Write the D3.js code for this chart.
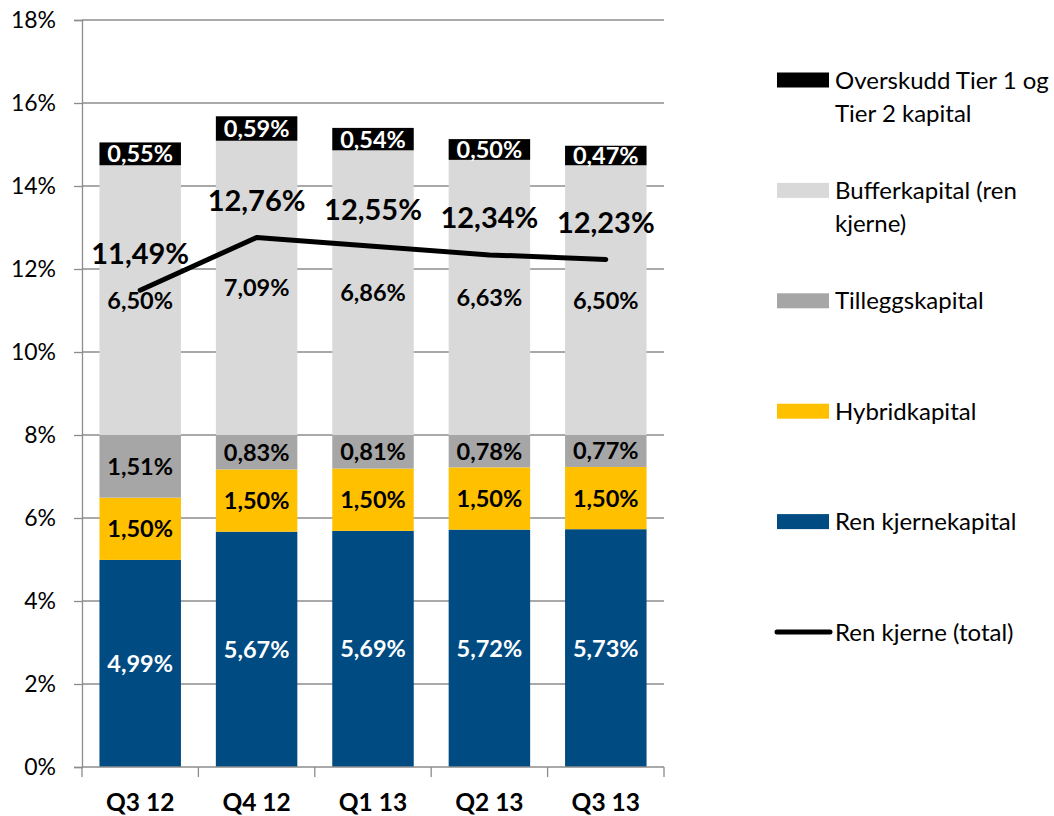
<!DOCTYPE html>
<html>
<head>
<meta charset="utf-8">
<script src="https://cdn.jsdelivr.net/npm/d3@7"></script>
<style>
  body { margin: 0; padding: 0; background: #fff; overflow: hidden; }
  text { font-family: Lato, "Open Sans", sans-serif; }
</style>
</head>
<body>
<script>
// data
const categories = ["Q3 12", "Q4 12", "Q1 13", "Q2 13", "Q3 13"];
const renKjernekapital = [4.99, 5.67, 5.69, 5.72, 5.73];
const hybridkapital = [1.50, 1.50, 1.50, 1.50, 1.50];
const tilleggskapital = [1.51, 0.83, 0.81, 0.78, 0.77];
const bufferkapital = [6.50, 7.09, 6.86, 6.63, 6.50];
const overskudd = [0.55, 0.59, 0.54, 0.50, 0.47];
const renKjerneTotal = [11.49, 12.76, 12.55, 12.34, 12.23];
const yTicks = [0, 2, 4, 6, 8, 10, 12, 14, 16, 18];

const seriesNames = ["Ren kjernekapital", "Hybridkapital", "Tilleggskapital", "Bufferkapital (ren kjerne)", "Overskudd Tier 1 og Tier 2 kapital"];
const seriesValues = [renKjernekapital, hybridkapital, tilleggskapital, bufferkapital, overskudd];
const seriesColors = ["#004b82", "#ffc000", "#a6a6a6", "#d9d9d9", "#000000"];
const labelColors = ["#fff", "#000", "#000", "#000", "#fff"];

const legendItems = [
  {lines: ["Overskudd Tier 1 og", "Tier 2 kapital"], color: "#000000", type: "rect"},
  {lines: ["Bufferkapital (ren", "kjerne)"], color: "#d9d9d9", type: "rect"},
  {lines: ["Tilleggskapital"], color: "#a6a6a6", type: "rect"},
  {lines: ["Hybridkapital"], color: "#ffc000", type: "rect"},
  {lines: ["Ren kjernekapital"], color: "#004b82", type: "rect"},
  {lines: ["Ren kjerne (total)"], color: "#000000", type: "line"}
];

const W = 1054, H = 816;
const plotL = 82, plotR = 664, plotT = 20, plotB = 767;

const nb = d3.formatLocale({decimal: ",", thousands: " ", grouping: [3], currency: ["", ""]});
const pct = v => nb.format(".2f")(v) + "%";

const svg = d3.select("body").append("svg").attr("width", W).attr("height", H);

const x = d3.scaleBand().domain(categories).range([plotL, plotR]).paddingInner(0.3).paddingOuter(0.15);
const y = d3.scaleLinear().domain([0, 18]).range([plotB, plotT]);

// gridlines
svg.append("g").selectAll("line").data(yTicks.filter(d => d > 0)).join("line")
  .attr("x1", plotL).attr("x2", plotR)
  .attr("y1", d => y(d)).attr("y2", d => y(d))
  .attr("stroke", "#8c8c8c").attr("stroke-width", 1.3);

// y axis
const yAxis = svg.append("g").attr("transform", `translate(${plotL},0)`)
  .call(d3.axisLeft(y).tickValues(yTicks).tickSize(8).tickPadding(18).tickFormat(d => d + "%"));
yAxis.select(".domain").attr("stroke", "#8c8c8c").attr("stroke-width", 1.3);
yAxis.selectAll(".tick line").attr("stroke", "#8c8c8c").attr("stroke-width", 1.3);
yAxis.selectAll(".tick text").attr("font-size", 23).attr("fill", "#000").attr("font-family", "Lato");

// stacked bars
const stackRows = categories.map((c, i) => {
  const r = {cat: c};
  seriesNames.forEach((s, k) => r[s] = seriesValues[k][i]);
  return r;
});
const stacked = d3.stack().keys(seriesNames)(stackRows);

stacked.forEach((layer, k) => {
  const g = svg.append("g");
  g.selectAll("rect").data(layer).join("rect")
    .attr("x", d => x(d.data.cat))
    .attr("width", x.bandwidth())
    .attr("y", d => y(d[1]))
    .attr("height", d => y(d[0]) - y(d[1]))
    .attr("fill", seriesColors[k]);
  g.selectAll("text").data(layer).join("text")
    .attr("x", d => x(d.data.cat) + x.bandwidth() / 2)
    .attr("y", d => (y(d[0]) + y(d[1])) / 2)
    .attr("dy", "0.36em")
    .attr("text-anchor", "middle")
    .attr("font-size", 23.5).attr("font-weight", "bold")
    .attr("fill", labelColors[k])
    .text(d => pct(d[1] - d[0]));
});

// x axis
svg.append("line").attr("x1", plotL).attr("x2", plotR).attr("y1", plotB).attr("y2", plotB)
  .attr("stroke", "#8c8c8c").attr("stroke-width", 1.3);
const bounds = d3.range(categories.length + 1).map(i => plotL + i * x.step());
svg.append("g").selectAll("line").data(bounds).join("line")
  .attr("x1", d => d).attr("x2", d => d).attr("y1", plotB).attr("y2", plotB + 10)
  .attr("stroke", "#8c8c8c").attr("stroke-width", 1.3);
svg.append("g").selectAll("text").data(categories).join("text")
  .attr("x", d => x(d) + x.bandwidth() / 2)
  .attr("y", 802).attr("dy", "0.36em")
  .attr("text-anchor", "middle")
  .attr("font-size", 24.5).attr("font-weight", "bold")
  .text(d => d);

// line
const line = d3.line().x((d, i) => x(categories[i]) + x.bandwidth() / 2).y(d => y(d));
svg.append("path").datum(renKjerneTotal)
  .attr("d", line).attr("fill", "none")
  .attr("stroke", "#000").attr("stroke-width", 5)
  .attr("stroke-linecap", "round").attr("stroke-linejoin", "round");
svg.append("g").selectAll("text").data(renKjerneTotal).join("text")
  .attr("x", (d, i) => x(categories[i]) + x.bandwidth() / 2)
  .attr("y", d => y(d) - 37).attr("dy", "0.36em")
  .attr("text-anchor", "middle")
  .attr("font-size", 29).attr("font-weight", "bold")
  .text(d => pct(d));

// legend
const lg = svg.append("g");
legendItems.forEach((item, i) => {
  const cy = 80 + i * 110.4;
  if (item.type === "rect") {
    lg.append("rect").attr("x", 777).attr("y", cy - 7.5).attr("width", 52).attr("height", 15).attr("fill", item.color);
  } else {
    lg.append("line").attr("x1", 777).attr("x2", 830).attr("y1", cy).attr("y2", cy)
      .attr("stroke", item.color).attr("stroke-width", 5).attr("stroke-linecap", "round");
  }
  item.lines.forEach((t, j) => {
    lg.append("text").attr("x", 835).attr("y", cy + j * 33).attr("dy", "0.36em")
      .attr("font-size", 24).text(t);
  });
});
</script>
</body>
</html>
